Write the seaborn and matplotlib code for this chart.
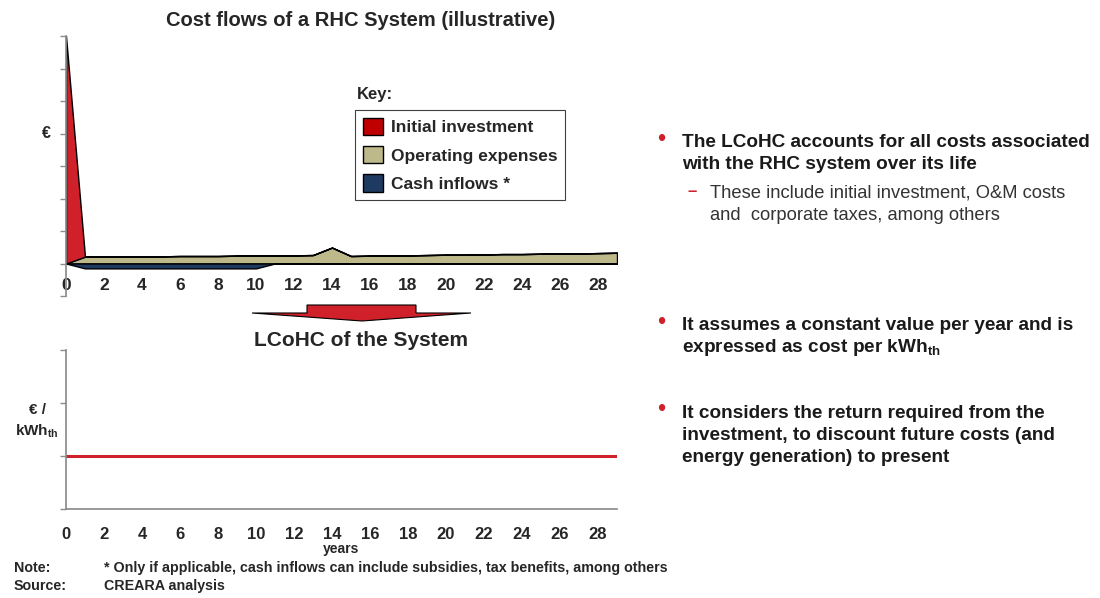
import numpy as np
import pandas as pd
import matplotlib.pyplot as plt
import seaborn as sns
from matplotlib.patches import Patch, Polygon

sns.set_theme(style="white")
plt.rcParams['font.family'] = ['Liberation Sans', 'DejaVu Sans']
plt.rcParams['mathtext.fontset'] = 'custom'
plt.rcParams['mathtext.rm'] = 'Liberation Sans'
plt.rcParams['mathtext.bf'] = 'Liberation Sans:bold'

# data (illustrative values)
years = list(range(30))
initial_investment = [7.0] + [0.0] * 29
operating_expenses = [0.0, 0.21, 0.21, 0.22, 0.22, 0.22, 0.23, 0.23, 0.23, 0.24,
                      0.24, 0.25, 0.25, 0.26, 0.49, 0.23, 0.24, 0.25, 0.25, 0.26,
                      0.27, 0.27, 0.28, 0.29, 0.29, 0.30, 0.31, 0.31, 0.32, 0.33]
cash_inflows = [0.0] + [-0.15] * 10 + [0.0] * 19
lcohc = [1.0] * 30
xticks = list(range(0, 29, 2))

RED = '#D0202A'
TAN = '#BDB98A'
NAVY = '#1F3A60'
GRAY = '#8C8C8C'

df = pd.DataFrame({'year': years, 'init': initial_investment,
                   'opex': operating_expenses, 'cash': cash_inflows,
                   'lcohc': lcohc})

fig = plt.figure(figsize=(11, 5.98), dpi=100)

# ---- top chart: cost flows
ax1 = fig.add_axes([66 / 1100, 1 - 296 / 598, 551 / 1100, 260 / 598])
ax1.fill_between(df['year'], 0, df['opex'], facecolor=TAN, edgecolor='black', lw=1)
ax1.fill_between(df['year'], df['opex'], df['opex'] + df['init'],
                 facecolor=RED, edgecolor='black', lw=1)
ax1.fill_between(df['year'], 0, df['cash'], facecolor=NAVY, edgecolor='black', lw=1)
ax1.set_xlim(0, 29)
ax1.set_ylim(-1, 7)
ax1.set_yticks(range(-1, 8))
ax1.set_yticklabels([])
ax1.set_xticks(xticks)
ax1.set_xticklabels([str(t) for t in xticks], fontsize=12.5, fontweight='bold')
ax1.tick_params(axis='x', length=0, pad=-13)
ax1.tick_params(axis='y', length=4, width=1, color=GRAY, direction='out', left=True)
for s in ['top', 'right', 'bottom']:
    ax1.spines[s].set_visible(False)
ax1.spines['left'].set_color(GRAY)
ax1.set_title('Cost flows of a RHC System (illustrative)', fontsize=14.5,
              fontweight='bold', pad=7, x=(361 - 66) / 551)
ax1.text(-0.035, 4, '€', transform=ax1.get_yaxis_transform(), fontsize=11.5,
         fontweight='bold', ha='center', va='center')

handles = [Patch(facecolor='#C00000', edgecolor='black', label='Initial investment'),
           Patch(facecolor=TAN, edgecolor='black', label='Operating expenses'),
           Patch(facecolor=NAVY, edgecolor='black', label='Cash inflows *')]
leg = ax1.legend(handles=handles, loc='upper left', bbox_to_anchor=(289 / 551, 1 - 74 / 260),
                 frameon=True, fancybox=False, edgecolor='#404040', framealpha=1,
                 prop={'weight': 'bold', 'size': 12.5}, handlelength=1.15,
                 handleheight=1.15, handletextpad=0.45, labelspacing=0.62,
                 borderpad=0.45, borderaxespad=0)
leg.get_frame().set_linewidth(0.8)
fig.text(357 / 1100, 1 - 95 / 598, 'Key:', fontsize=12, fontweight='bold',
         va='center', ha='left')

# ---- arrow between the charts
pts = [(307, 305), (416, 305), (416, 313), (471, 313), (362, 321), (252, 313), (307, 313)]
arrow = Polygon([(x / 1100, 1 - y / 598) for x, y in pts], closed=True,
                facecolor=RED, edgecolor='black', lw=0.8, transform=fig.transFigure)
fig.patches.append(arrow)

# ---- bottom chart: LCoHC
ax2 = fig.add_axes([66 / 1100, 1 - 509 / 598, 551 / 1100, 159 / 598])
sns.lineplot(data=df, x='year', y='lcohc', ax=ax2, color=RED, lw=2.2)
ax2.set_xlim(0, 29)
ax2.set_ylim(0, 3)
ax2.set_yticks(range(0, 4))
ax2.set_yticklabels([])
ax2.set_xticks(xticks)
ax2.set_xticklabels([str(t) for t in xticks], fontsize=12, fontweight='bold')
ax2.tick_params(axis='x', length=0, pad=13)
ax2.tick_params(axis='y', length=4, width=1, color=GRAY, direction='out', left=True)
for s in ['top', 'right']:
    ax2.spines[s].set_visible(False)
ax2.spines['left'].set_color(GRAY)
ax2.spines['bottom'].set_color(GRAY)
ax2.set_ylabel('')
ax2.set_xlabel('years', fontsize=10, fontweight='bold', labelpad=0)
ax2.set_title('LCoHC of the System', fontsize=15, fontweight='bold', pad=3,
              x=(361 - 66) / 551)
ax2.text(-0.052, 1.87, '€ /', transform=ax2.get_yaxis_transform(), fontsize=11,
         fontweight='bold', ha='center', va='center')
ax2.text(-0.052, 1.47, r'kWh$_\mathbf{th}$', transform=ax2.get_yaxis_transform(),
         fontsize=11, fontweight='bold', ha='center', va='center')

# ---- right-hand commentary
bullets = [
    (143, ['The LCoHC accounts for all costs associated',
           'with the RHC system over its life']),
    (326, ['It assumes a constant value per year and is',
           r'expressed as cost per kWh$_\mathbf{th}$']),
    (413, ['It considers the return required from the',
           'investment, to discount future costs (and',
           'energy generation) to present']),
]
for y0, lines in bullets:
    fig.text(657 / 1100, 1 - (y0 - 3) / 598, '•', color=RED, fontsize=17,
             ha='left', va='center')
    for i, line in enumerate(lines):
        fig.text(682 / 1100, 1 - (y0 + 22 * i) / 598, line, fontsize=13.7,
                 fontweight='bold', color='#1A1A1A', ha='left', va='center')
fig.text(688 / 1100, 1 - 191 / 598, '–', color=RED, fontsize=12,
         fontweight='bold', ha='left', va='center')
for i, line in enumerate(['These include initial investment, O&M costs',
                          'and  corporate taxes, among others']):
    fig.text(710 / 1100, 1 - (193 + 22 * i) / 598, line, fontsize=13.2,
             color='#333333', ha='left', va='center')

# ---- footnotes
fig.text(14 / 1100, 1 - 568 / 598, 'Note:', fontsize=10.3, fontweight='bold',
         va='center')
fig.text(104 / 1100, 1 - 568 / 598,
         '* Only if applicable, cash inflows can include subsidies, tax benefits, among others',
         fontsize=10.3, fontweight='bold', va='center')
fig.text(14 / 1100, 1 - 586 / 598, 'Source:', fontsize=10.3, fontweight='bold',
         va='center')
fig.text(104 / 1100, 1 - 586 / 598, 'CREARA analysis', fontsize=10.3,
         fontweight='bold', va='center')

fig.savefig('out.png', dpi=100)
